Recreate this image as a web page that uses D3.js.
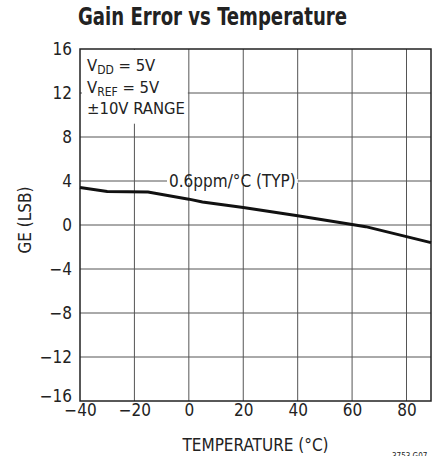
<!DOCTYPE html>
<html>
<head>
<meta charset="utf-8">
<script src="https://cdn.jsdelivr.net/npm/d3@7"></script>
<style>
  body { margin: 0; background: #fff; }
  svg text { font-family: "DejaVu Sans Condensed", "DejaVu Sans", sans-serif; font-stretch: condensed; fill: #222; }
</style>
</head>
<body>
<svg width="439" height="456"></svg>
<script>
// chart values
const temps = [-40, -30, -15, 0, 5, 20, 40, 60, 65, 89];
const gainError = [3.4, 3.05, 3.0, 2.35, 2.1, 1.6, 0.85, 0.05, -0.15, -1.6];
const xTicks = [-40, -20, 0, 20, 40, 60, 80];
const yTicks = [-16, -12, -8, -4, 0, 4, 8, 12, 16];
const condLines = [["V", "DD", " = 5V"], ["V", "REF", " = 5V"], ["±10V RANGE", "", ""]];

const svg = d3.select("svg");
const margin = { left: 80, top: 49, right: 8, bottom: 55 };
const W = 439, H = 456;

const x = d3.scaleLinear().domain([-40, 89]).range([margin.left, W - margin.right]);
const y = d3.scaleLinear().domain([-16, 16]).range([H - margin.bottom, margin.top]);

// grid
const grid = svg.append("g").attr("stroke", "#555").attr("stroke-width", 1);
grid.selectAll(".gx").data(xTicks.slice(1)).enter().append("line")
  .attr("x1", d => x(d)).attr("x2", d => x(d))
  .attr("y1", y(16)).attr("y2", y(-16));
grid.selectAll(".gy").data(yTicks.slice(1, -1)).enter().append("line")
  .attr("x1", x(-40)).attr("x2", x(89))
  .attr("y1", d => y(d)).attr("y2", d => y(d));

// white box behind conditions text
svg.append("rect").attr("x", x(-40) + 2).attr("y", y(16) + 1)
  .attr("width", x(0) - x(-40) - 3).attr("height", y(9.3) - y(16))
  .attr("fill", "#fff");

// frame
svg.append("rect").attr("x", x(-40)).attr("y", y(16))
  .attr("width", x(89) - x(-40)).attr("height", y(-16) - y(16))
  .attr("fill", "none").attr("stroke", "#222").attr("stroke-width", 1.5);

// data line
svg.append("path")
  .datum(temps.map((t, i) => [t, gainError[i]]))
  .attr("fill", "none").attr("stroke", "#111").attr("stroke-width", 3)
  .attr("d", d3.line().x(d => x(d[0])).y(d => y(d[1])));

// axes
const xAxis = svg.append("g").attr("transform", `translate(0,${y(-16)})`)
  .call(d3.axisBottom(x).tickValues(xTicks).tickSize(0).tickPadding(3)
    .tickFormat(d => d < 0 ? "\u2212" + Math.abs(d) : d));
const yAxis = svg.append("g").attr("transform", `translate(${x(-40)},0)`)
  .call(d3.axisLeft(y).tickValues(yTicks).tickSize(0).tickPadding(8)
    .tickFormat(d => d < 0 ? "\u2212" + Math.abs(d) : d));
[xAxis, yAxis].forEach(a => {
  a.select(".domain").remove();
  a.selectAll("text").attr("font-size", 17).attr("font-family", null).attr("fill", "#222");
});
yAxis.selectAll("text").filter(d => d === -16).attr("dy", "0.05em");

// conditions text
condLines.forEach((l, i) => {
  const t = svg.append("text").attr("x", 87).attr("y", 71 + i * 21.6).attr("font-size", 16.5);
  t.append("tspan").text(l[0]);
  if (l[1]) {
    t.append("tspan").attr("font-size", 12).attr("dy", 3).text(l[1]);
    t.append("tspan").attr("dy", -3).text(l[2]);
  }
});

// annotation
const ann = svg.append("text").attr("x", x(-40) + 89).attr("y", y(4) + 6)
  .attr("font-size", 17).text("0.6ppm/°C (TYP)");
const bb = ann.node().getBBox();
svg.insert("rect", "path").attr("x", bb.x - 2).attr("y", y(4) - 2)
  .attr("width", bb.width + 4).attr("height", 4).attr("fill", "#fff");

// titles
svg.append("text").attr("x", 78).attr("y", 25)
  .attr("font-size", 25).attr("font-weight", "bold")
  .attr("textLength", 269).attr("lengthAdjust", "spacingAndGlyphs")
  .text("Gain Error vs Temperature");
svg.append("text").attr("x", (x(-40) + x(89)) / 2).attr("y", 451).attr("text-anchor", "middle")
  .attr("font-size", 17).text("TEMPERATURE (°C)");
svg.append("text").attr("transform", `translate(31,${y(0) - 5}) rotate(-90)`)
  .attr("text-anchor", "middle").attr("font-size", 17).text("GE (LSB)");
svg.append("text").attr("x", 392).attr("y", 459).attr("font-size", 8).text("3753 G07");
</script>
</body>
</html>
